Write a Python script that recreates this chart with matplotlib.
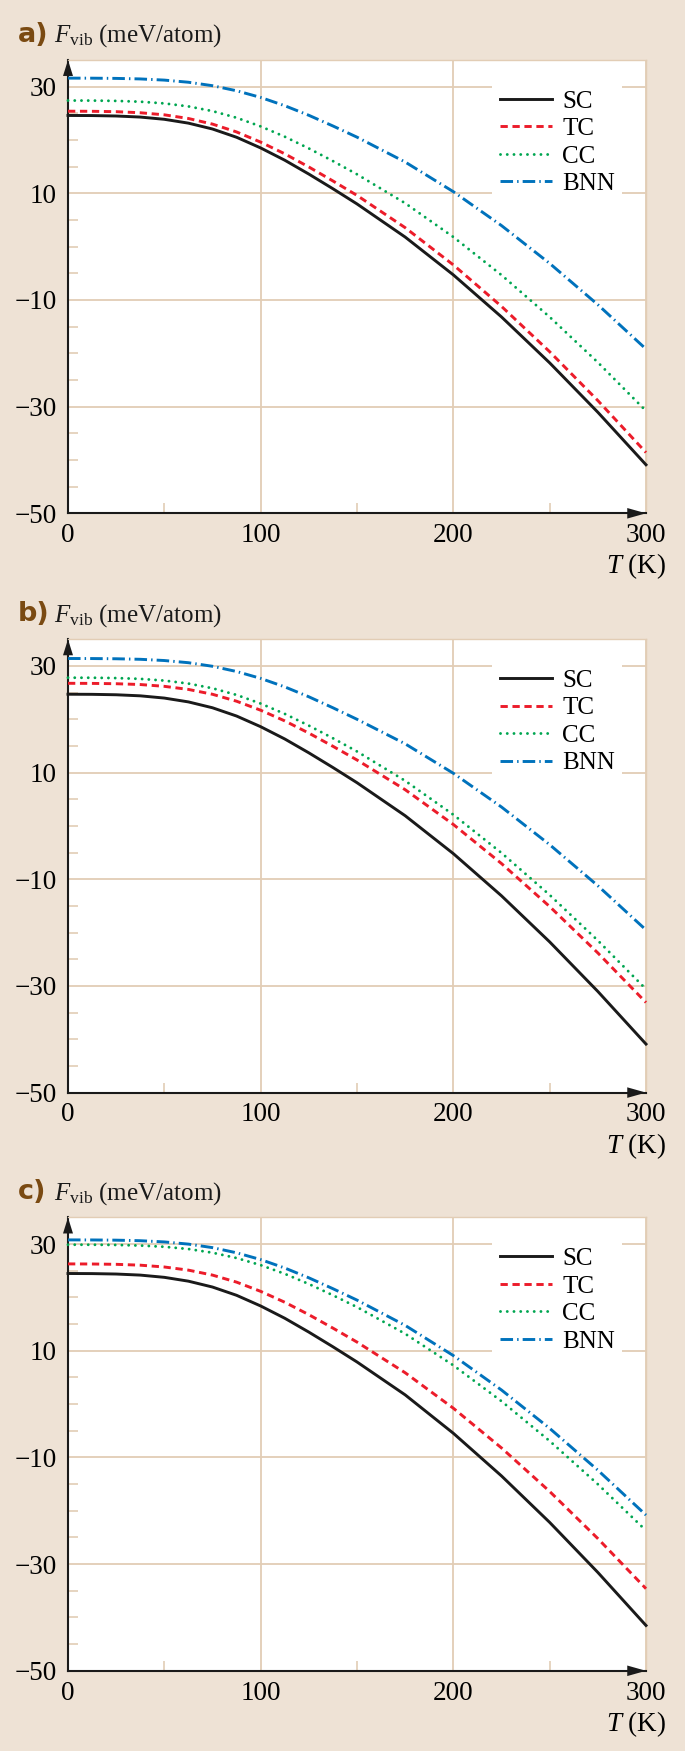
import numpy as np
import matplotlib
matplotlib.use('Agg')
import matplotlib.pyplot as plt

T = [0, 12.5, 25, 37.5, 50, 62.5, 75, 87.5, 100, 112.5, 125, 137.5, 150,
     175, 200, 225, 250, 275, 300]

# panel a)
SC_a = [24.6, 24.58, 24.5, 24.3, 23.88, 23.16, 22.06, 20.51, 18.51, 16.21, 13.61, 10.86, 8.01,
        1.80, -5.29, -13.18, -21.79, -31.05, -40.9]
TC_a = [25.4, 25.38, 25.31, 25.11, 24.72, 24.03, 22.98, 21.51, 19.6, 17.41, 14.94, 12.32, 9.61,
        3.56, -3.42, -11.2, -19.7, -28.86, -38.6]
CC_a = [27.4, 27.39, 27.33, 27.18, 26.86, 26.3, 25.42, 24.17, 22.55, 20.62, 18.42, 16.05, 13.57,
        8.15, 1.81, -5.33, -13.19, -21.7, -30.8]
BNN_a = [31.6, 31.59, 31.55, 31.45, 31.23, 30.83, 30.18, 29.23, 27.98, 26.43, 24.63, 22.63, 20.53,
         15.87, 10.31, 3.95, -3.14, -10.88, -19.2]

# panel b)
SC_b = [24.7, 24.68, 24.6, 24.4, 23.98, 23.26, 22.16, 20.61, 18.61, 16.31, 13.71, 10.96, 8.11,
        1.92, -5.19, -13.1, -21.74, -31.03, -40.9]
TC_b = [26.75, 26.73, 26.67, 26.52, 26.18, 25.6, 24.69, 23.39, 21.7, 19.7, 17.41, 14.94, 12.37,
        6.8, 0.28, -7.05, -15.11, -23.81, -33.1]
CC_b = [27.8, 27.79, 27.73, 27.58, 27.26, 26.7, 25.82, 24.57, 22.95, 21.02, 18.82, 16.45, 13.97,
        8.47, 2.11, -5.06, -12.94, -21.48, -30.6]
BNN_b = [31.4, 31.39, 31.35, 31.25, 31.02, 30.61, 29.94, 28.96, 27.67, 26.08, 24.22, 22.16, 20.0,
         15.4, 9.88, 3.55, -3.51, -11.21, -19.5]

# panel c)
SC_c = [24.5, 24.48, 24.4, 24.2, 23.78, 23.06, 21.96, 20.41, 18.41, 16.11, 13.51, 10.76, 7.91,
        1.74, -5.46, -13.46, -22.17, -31.55, -41.5]
TC_c = [26.3, 26.28, 26.22, 26.06, 25.72, 25.13, 24.2, 22.88, 21.15, 19.11, 16.78, 14.26, 11.64,
        5.89, -0.76, -8.21, -16.37, -25.2, -34.6]
CC_c = [29.9, 29.89, 29.85, 29.74, 29.51, 29.09, 28.4, 27.4, 26.07, 24.44, 22.53, 20.42, 18.2,
        13.2, 7.28, 0.55, -6.91, -15.01, -23.7]
BNN_c = [30.8, 30.79, 30.75, 30.65, 30.42, 30.01, 29.35, 28.38, 27.11, 25.53, 23.69, 21.65, 19.51,
         14.77, 9.11, 2.65, -4.54, -12.38, -20.8]

labels = ['SC', 'TC', 'CC', 'BNN']
panel_names = ['a)', 'b)', 'c)']
xticks = [0, 100, 200, 300]
yticks = [30, 10, -10, -30, -50]

bg = '#eee2d5'
tan = '#e2cdb5'
colors = ['#1a1a1a', '#ec1c2a', '#00a651', '#0072bc']
styles = ['-', (0, (2.5, 1.6)), (0, (0.01, 2.3)), (0, (4.3, 1.4, 0.5, 1.4))]

plt.rcParams['mathtext.fontset'] = 'custom'
plt.rcParams['mathtext.rm'] = 'Liberation Serif'
plt.rcParams['mathtext.it'] = 'Liberation Serif:italic'
serif = 'Liberation Serif'
tfs = 19.5

fig = plt.figure(figsize=(6.85, 17.51), dpi=100, facecolor=bg)
W, H = 685.0, 1751.0
tops = [60.0, 639.3, 1217.5]
ax_h = 453.3

panels = [(SC_a, TC_a, CC_a, BNN_a), (SC_b, TC_b, CC_b, BNN_b), (SC_c, TC_c, CC_c, BNN_c)]
for top, name, series in zip(tops, panel_names, panels):
    ax = fig.add_axes([68 / W, 1 - (top + ax_h) / H, 578 / W, ax_h / H])
    ax.set_facecolor('white')
    ax.set_xlim(0, 300)
    ax.set_ylim(-50, 35)

    handles = []
    for y, lab, c, ls in zip(series, labels, colors, styles):
        ln, = ax.plot(T, y, color=c, linestyle=ls, lw=2.1, label=lab,
                      dash_capstyle='round' if lab == 'CC' else 'butt',
                      solid_joinstyle='round', dash_joinstyle='round',
                      clip_on=False, zorder=3)
        handles.append(ln)

    ax.set_xticks(xticks)
    ax.set_yticks(yticks)
    ax.set_xticks([50, 150, 250], minor=True)
    ax.set_yticks([v for v in range(-45, 35, 5) if v not in yticks], minor=True)
    ax.tick_params(which='major', length=0, labelsize=tfs, pad=7)
    ax.tick_params(axis='y', which='major', pad=8)
    ax.tick_params(which='minor', direction='in', length=7, width=1.2, color=tan)
    for lbl in ax.get_xticklabels() + ax.get_yticklabels():
        lbl.set_fontfamily(serif)
    ax.grid(True, which='major', color=tan, lw=1.3, zorder=0)
    ax.set_axisbelow(True)

    for s in ['top', 'right']:
        ax.spines[s].set_color(tan)
        ax.spines[s].set_linewidth(1.0)
    for s in ['left', 'bottom']:
        ax.spines[s].set_color('#1a1a1a')
        ax.spines[s].set_linewidth(1.5)

    # axis arrows
    ax.annotate('', xy=(0, 1.0), xycoords='axes fraction', xytext=(0, 0.96),
                arrowprops=dict(arrowstyle='-|>,head_length=1.15,head_width=0.36',
                                color='#1a1a1a', lw=0, shrinkA=0, shrinkB=0))
    ax.annotate('', xy=(1.0, 0), xycoords='axes fraction', xytext=(0.96, 0),
                arrowprops=dict(arrowstyle='-|>,head_length=1.35,head_width=0.38',
                                color='#1a1a1a', lw=0, shrinkA=0, shrinkB=0))

    leg = ax.legend(handles, labels, loc='upper left', bbox_to_anchor=(0.7336, 0.95),
                    frameon=True, facecolor='white', edgecolor='none', framealpha=1,
                    fancybox=False, handlelength=2.1, handletextpad=0.4,
                    labelspacing=0.2, borderpad=0.3, borderaxespad=0,
                    prop=dict(family=serif, size=18))
    leg.set_zorder(5)

    ax.text(1.035, -0.117, r'$T$ (K)', transform=ax.transAxes, ha='right', va='center',
            fontsize=tfs, fontfamily=serif)

    # panel heading
    ax.text(-0.087, 1.04, name, transform=ax.transAxes, ha='left', va='baseline',
            fontsize=19.5, fontweight='bold', color='#7a4a12',
            family=['Liberation Sans Narrow', 'DejaVu Sans'])
    ax.text(-0.025, 1.04, r'$F_{\mathrm{vib}}$ (meV/atom)', transform=ax.transAxes,
            ha='left', va='baseline', fontsize=18, fontfamily=serif, color='#1a1a1a')

fig.savefig('out.png', dpi=100, facecolor=bg)
